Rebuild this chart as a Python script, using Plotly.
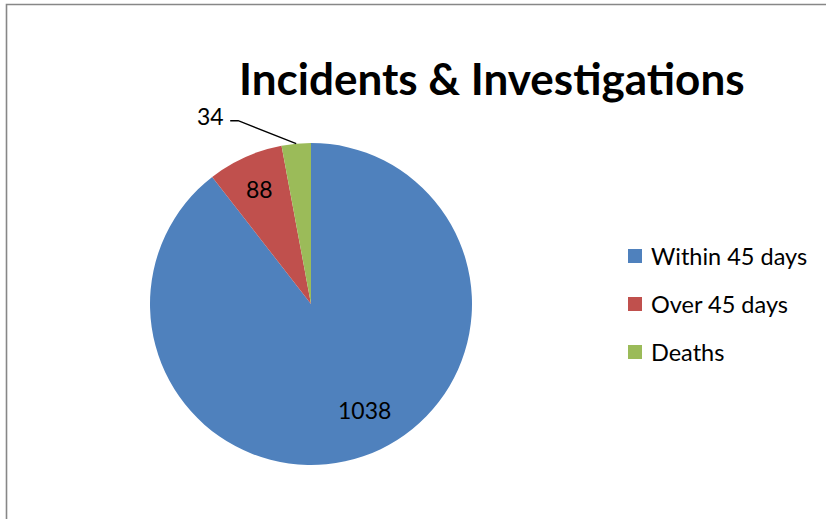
import math
import plotly.graph_objects as go

# Chart data
categories = ["Within 45 days", "Over 45 days", "Deaths"]
counts = [1038, 88, 34]
colors = ["#4F81BD", "#C0504D", "#9BBB59"]
title_text = "Incidents & Investi\u200cgations"  # ZWNJ keeps the "ti" unligated

W, H = 826, 519
FONT = "Lato, Calibri, Carlito, sans-serif"

# Pie placement (pixels) -> paper domain
cx, cy, r = 311, 304, 161
dom_x = [(cx - r) / W, (cx + r) / W]
dom_y = [(H - (cy + r)) / H, (H - (cy - r)) / H]

fig = go.Figure(
    go.Pie(
        labels=categories,
        values=counts,
        marker=dict(colors=colors, line=dict(width=0)),
        sort=False,
        direction="clockwise",
        rotation=0,
        textinfo="none",
        hoverinfo="label+value",
        showlegend=False,
        domain=dict(x=dom_x, y=dom_y),
    )
)

def px(x, y):
    return x / W, 1 - y / H

# Data labels, placed along each slice's mid-angle
total = sum(counts)
label_style = [  # (radius fraction, angle nudge in degrees, outside?)
    (0.74, -8, False),
    (0.78, 0, False),
    (1.0, 0, True),
]
cum = 0
for val, (frac, nudge, outside) in zip(counts, label_style):
    mid = (cum + val / 2) / total * 2 * math.pi
    cum += val
    a = mid + math.radians(nudge)
    ex = cx + frac * r * math.sin(a)
    ey = cy - frac * r * math.cos(a)
    if not outside:
        x, y = px(ex, ey)
        fig.add_annotation(x=x, y=y, xref="paper", yref="paper", text=str(val),
                           showarrow=False, xanchor="center", yanchor="middle",
                           font=dict(family=FONT, size=23, color="#000"))
    else:
        # leader line from slice edge to an elbow, then label to the left
        elbow = (ex - 58, ey - 23)
        stub = (elbow[0] - 8, elbow[1])
        pts = [px(ex, ey), px(*elbow), px(*stub)]
        path = "M {} {} L {} {} L {} {}".format(*[c for p in pts for c in p])
        fig.add_shape(type="path", path=path, xref="paper", yref="paper",
                      line=dict(color="#000", width=1.4))
        lx, ly = px(stub[0] - 4, stub[1] - 5)
        fig.add_annotation(x=lx, y=ly, xref="paper", yref="paper", text=str(val),
                           showarrow=False, xanchor="right", yanchor="middle",
                           font=dict(family=FONT, size=23, color="#000"))

# Legend: square markers with labels
leg_x, leg_y0, leg_dy, sq = 628, 256, 48, 14
for i, (name, col) in enumerate(zip(categories, colors)):
    y = leg_y0 + i * leg_dy
    x0, y0 = px(leg_x, y - sq / 2)
    x1, y1 = px(leg_x + sq, y + sq / 2)
    fig.add_shape(type="rect", x0=x0, x1=x1, y0=y1, y1=y0, xref="paper", yref="paper",
                  fillcolor=col, line=dict(width=0))
    tx, ty = px(leg_x + 21, y)
    fig.add_annotation(x=tx, y=ty, xref="paper", yref="paper", text=name,
                       showarrow=False, xanchor="left", yanchor="middle",
                       font=dict(family=FONT, size=23.5, color="#000"))

# Title
tx, ty = px(492, 78)
fig.add_annotation(x=tx, y=ty, xref="paper", yref="paper", text="<b>" + title_text + "</b>",
                   showarrow=False, xanchor="center", yanchor="middle",
                   font=dict(family=FONT, size=44, color="#000"))

# Chart frame (left and top edges visible)
fx, fy = px(6.5, 4.5)
fig.add_shape(type="rect", x0=fx, x1=1.05, y0=-0.05, y1=fy, xref="paper", yref="paper",
              line=dict(color="#878787", width=1.6), fillcolor="rgba(0,0,0,0)")

fig.update_layout(
    width=W, height=H,
    margin=dict(l=0, r=0, t=0, b=0),
    paper_bgcolor="white", plot_bgcolor="white",
)

fig.write_html("out.html")
